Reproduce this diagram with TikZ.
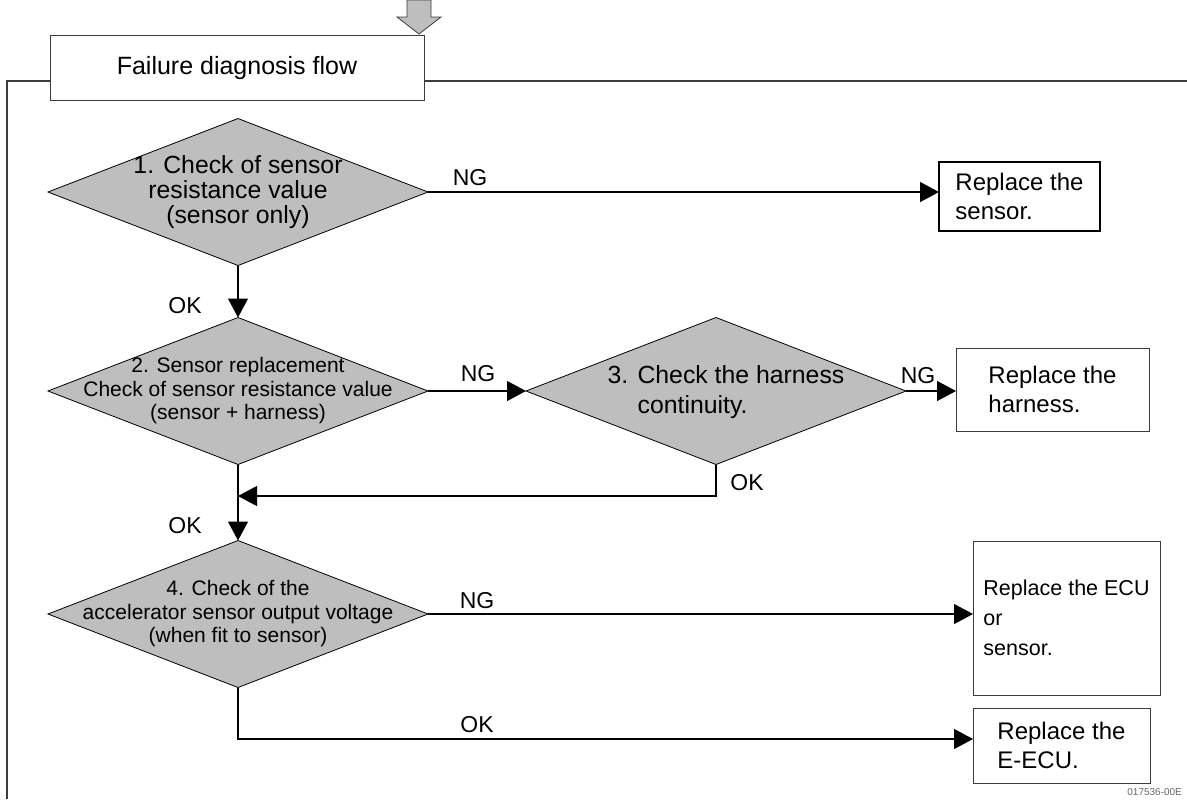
\documentclass[tikz,border=0pt]{standalone}
\usepackage{fontspec}
\setmainfont{Liberation Sans}
\usepackage{xcolor}
\usetikzlibrary{arrows.meta,positioning,shapes.geometric}

\definecolor{stipple}{RGB}{190,190,190}
\definecolor{edge}{RGB}{60,60,60}

\begin{document}
\begin{tikzpicture}[
  x=0.5pt,y=-0.5pt,
  check/.style={diamond,draw=black,fill=stipple,inner sep=0pt,outer sep=0pt,
    minimum width=190pt,minimum height=73.5pt},
  bigtxt/.style={align=center,inner sep=0pt,font=\fontsize{12.4pt}{12.5pt}\selectfont},
  smalltxt/.style={align=center,inner sep=0pt,font=\fontsize{10.5pt}{11.75pt}\selectfont},
  result/.style={draw=edge,fill=white,align=left,inner sep=0pt,outer sep=0pt,
    font=\fontsize{12pt}{14.5pt}\selectfont},
  tag/.style={inner sep=0pt,font=\fontsize{11.5pt}{12pt}\selectfont},
  arr/.style={-{Triangle[length=9.5pt,width=10pt]},draw=black,line width=0.6pt}
]
\useasboundingbox (0,0) rectangle (1187,799);

% frame and heading
\draw[edge,line width=0.6pt] (1187,81) -- (7,81) -- (7,799);
\fill[stipple,draw=edge,line width=0.4pt]
  (407,0) -- (431,0) -- (431,17) -- (441,17) -- (419,34) -- (397,17) -- (407,17) -- cycle;
\node[draw=edge,fill=white,minimum width=187pt,minimum height=32.5pt,inner sep=0pt,
  font=\fontsize{12.5pt}{14pt}\selectfont] (title) at (237,68) {Failure diagnosis flow};

% checks
\node[check] (d1) at (238,192) {};
\node[bigtxt] (t1) at (d1) {1. Check of sensor\\resistance value\\(sensor only)};
\node[check] (d2) at (238,391) {};
\node[smalltxt] (t2) at (d2) {2. Sensor replacement\\Check of sensor resistance value\\(sensor + harness)};
\node[check] (d3) at (716,391) {};
\node[bigtxt,align=left,font=\fontsize{12.4pt}{15pt}\selectfont] (t3) at (726,392)
  {3. Check the harness\\\hspace*{15pt}continuity.};
\node[check] (d4) at (238,614) {};
\node[smalltxt] (t4) at (d4) {4. Check of the\\accelerator sensor output voltage\\(when fit to sensor)};

% results
\node[result,draw=black,line width=1pt,minimum width=80.5pt,minimum height=34.5pt]
  (r1) at (1019.5,196.5) {Replace the\\sensor.};
\node[result,minimum width=96.5pt,minimum height=41.5pt]
  (r2) at (1052.5,389.5) {Replace the\\harness.};
\node[result,minimum width=93.5pt,minimum height=77pt,
  font=\fontsize{10.75pt}{15pt}\selectfont]
  (r3) at (1066.5,618) {Replace the ECU\\or\\sensor.};
\node[result,minimum width=88.5pt,minimum height=37.5pt]
  (r4) at (1061.5,745.5) {Replace the\\E-ECU.};

% connectors
\coordinate (join) at (238,496);
\draw[arr] (d1.south) -- (d2.north);
\draw[arr] (d1.east) -- (d1.east -| r1.west);
\draw[arr] (d2.east) -- (d3.west);
\draw[arr] (d3.east) -- (d3.east -| r2.west);
\draw[arr] (d3.south) |- (join);
\draw[arr] (d2.south) -- (d4.north);
\draw[arr] (d4.east) -- (d4.east -| r3.west);
\draw[arr] (d4.south) |- ([yshift=3.25pt]r4.west);

% branch labels
\node[tag] (ng1) at (470,178) {NG};
\node[tag] (ok1) at (185,306) {OK};
\node[tag] (ng2) at (478,374) {NG};
\node[tag] (ng3) at (918,376) {NG};
\node[tag] (ok3) at (747,483) {OK};
\node[tag] (ok2) at (185,526) {OK};
\node[tag] (ng4) at (477,601) {NG};
\node[tag] (ok4) at (477,725) {OK};

\node[anchor=west,inner sep=0pt,text=black!60,font=\fontsize{5pt}{6pt}\selectfont]
  (code) at (1127,792) {017536-00E};
\end{tikzpicture}
\end{document}
